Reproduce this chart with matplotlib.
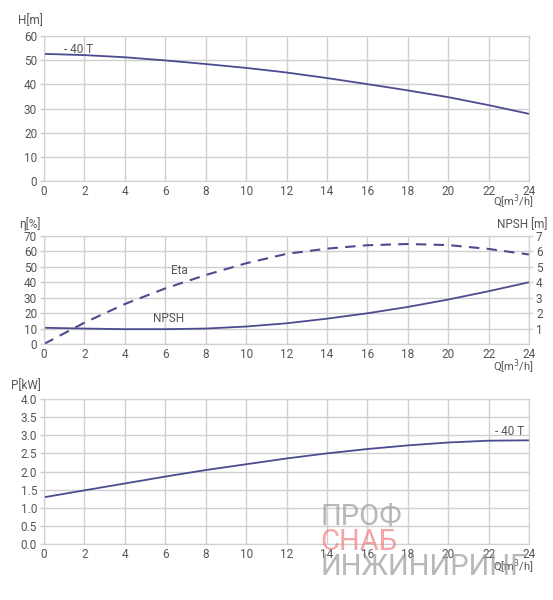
import matplotlib
matplotlib.use("Agg")
import matplotlib.pyplot as plt
import numpy as np

plt.rcParams['font.family'] = ['Roboto', 'DejaVu Sans']

# flow rate Q [m3/h]
q = [0, 2, 4, 6, 8, 10, 12, 14, 16, 18, 20, 22, 24]
# head H [m]
head = [52.6, 52.1, 51.2, 49.9, 48.4, 46.8, 44.9, 42.6, 40.1, 37.5, 34.7, 31.4, 27.8]
# efficiency eta [%]
eta = [0.0, 13.8, 25.9, 36.0, 44.7, 52.3, 58.4, 61.8, 64.0, 64.8, 64.1, 61.6, 58.0]
# NPSH [m]
npsh = [1.05, 1.0, 0.96, 0.96, 1.0, 1.13, 1.34, 1.64, 1.99, 2.4, 2.88, 3.42, 4.0]
# power P [kW]
power = [1.29, 1.48, 1.67, 1.86, 2.04, 2.2, 2.36, 2.50, 2.62, 2.72, 2.80, 2.85, 2.86]

x_ticks = list(range(0, 25, 2))
line_col = '#4b4b8f'
grid_col = '#cfcfcf'
text_col = '#555555'


def style_axes(ax):
    ax.set_xlim(0, 24)
    ax.set_xticks(x_ticks)
    ax.grid(True, color=grid_col, lw=1.0)
    for s in ax.spines.values():
        s.set_color(grid_col)
    ax.tick_params(axis='both', colors=grid_col, labelcolor=text_col,
                   labelsize=8.5, length=3, width=1.0, pad=2)
    ax.tick_params(axis='x', length=0, pad=3)
    ax.set_axisbelow(True)


fig = plt.figure(figsize=(5.53, 6.0), dpi=100)

# --- head ---
ax1 = fig.add_axes([0.0796, 0.6983, 0.877, 0.2417])
ax1.plot(q, head, color=line_col, lw=1.3)
ax1.set_ylim(0, 60)
ax1.set_yticks(range(0, 61, 10))
style_axes(ax1)
ax1.text(1.0, 54.6, '- 40 T', fontsize=8.5, color=text_col, va='center')
fig.text(0.032, 0.966, 'H[m]', fontsize=8.5, color=text_col, va='center')
fig.text(0.965, 0.663, 'Q[m$^3$/h]', fontsize=8, color=text_col, ha='right', va='center')

# --- efficiency / NPSH ---
ax2 = fig.add_axes([0.0796, 0.4267, 0.877, 0.18])
ax2.plot(q, eta, color=line_col, lw=1.5, dashes=(5, 3.5))
ax2.set_ylim(0, 70)
ax2.set_yticks(range(0, 71, 10))
style_axes(ax2)
ax2r = ax2.twinx()
ax2r.plot(q, npsh, color=line_col, lw=1.3)
ax2r.set_ylim(0, 7)
ax2r.set_yticks(range(1, 8))
for s in ax2r.spines.values():
    s.set_color(grid_col)
ax2r.tick_params(axis='y', colors=grid_col, labelcolor=text_col,
                 labelsize=8.5, length=3, width=1.0, pad=2)
ax2.text(6.3, 47.5, 'Eta', fontsize=8.5, color=text_col, va='center')
ax2.text(5.4, 16.2, 'NPSH', fontsize=8.5, color=text_col, va='center')
fig.text(0.034, 0.626, 'η[%]', fontsize=8.5, color=text_col, va='center')
fig.text(0.990, 0.625, 'NPSH [m]', fontsize=8.5, color=text_col, ha='right', va='center')
fig.text(0.965, 0.388, 'Q[m$^3$/h]', fontsize=8, color=text_col, ha='right', va='center')

# --- power ---
ax3 = fig.add_axes([0.0796, 0.0933, 0.877, 0.2417])
ax3.plot(q, power, color=line_col, lw=1.3)
ax3.set_ylim(0, 4.0)
ax3.set_yticks(np.arange(0, 4.01, 0.5))
ax3.set_yticklabels([f'{v:.1f}' for v in np.arange(0, 4.01, 0.5)])
style_axes(ax3)
ax3.text(22.3, 3.1, '- 40 T', fontsize=8.5, color=text_col, va='center')
fig.text(0.020, 0.357, 'P[kW]', fontsize=8.5, color=text_col, va='center')
fig.text(0.965, 0.055, 'Q[m$^3$/h]', fontsize=8, color=text_col, ha='right', va='center')

# watermark
fig.text(0.58, 0.138, 'ПРОФ', fontsize=21, color='#9a9a9a', alpha=0.7, va='center')
fig.text(0.58, 0.097, 'СНАБ', fontsize=21, color='#ef7f7f', alpha=0.7, va='center')
fig.text(0.58, 0.055, 'ИНЖИНИРИНГ', fontsize=21, color='#9a9a9a', alpha=0.7, va='center')

fig.savefig('out.png', dpi=100)
